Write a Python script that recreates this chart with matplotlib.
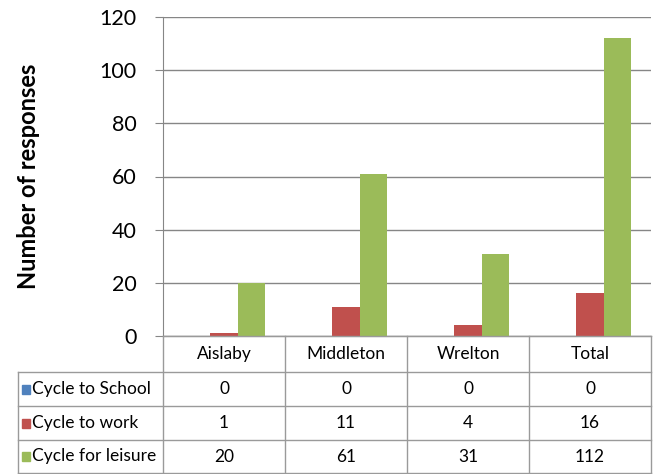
import numpy as np
import matplotlib.pyplot as plt
from matplotlib.patches import Rectangle

places = ['Aislaby', 'Middleton', 'Wrelton', 'Total']
series = ['Cycle to School', 'Cycle to work', 'Cycle for leisure']
school = [0, 0, 0, 0]
work = [1, 11, 4, 16]
leisure = [20, 61, 31, 112]
colors = ['#4F81BD', '#C0504D', '#9BBB59']

plt.rcParams['font.family'] = ['Lato', 'DejaVu Sans']

W, H = 656, 474
fig = plt.figure(figsize=(W / 100, H / 100), dpi=100)

# plot area in pixels (from top-left)
L, R, T, B = 163, 651, 17, 336
ax = fig.add_axes([L / W, 1 - B / H, (R - L) / W, (B - T) / H])

x = np.arange(len(places))
bw = 1 / 4.5  # excel gap width 150%
for k, vals in enumerate([school, work, leisure]):
    ax.bar(x + (k - 1) * bw, vals, bw, color=colors[k], zorder=3)

ax.set_xlim(-0.5, len(places) - 0.5)
ax.set_ylim(0, 120)
ax.set_yticks(range(0, 121, 20))
ax.set_xticks([])
ax.grid(axis='y', color='#868686', lw=1, zorder=0)
for s in ['top', 'right']:
    ax.spines[s].set_visible(False)
ax.spines['left'].set_color('#868686')
ax.spines['bottom'].set_color('#868686')
ax.tick_params(axis='y', length=6, color='#868686', pad=13, labelsize=15.5)

fig.text(28 / W, 1 - 176 / H, 'Number of responses', rotation=90,
         ha='center', va='center', fontsize=17, fontweight='bold')

# data table drawn in pixel coords
tab = fig.add_axes([0, 0, 1, 1])
tab.set_xlim(0, W)
tab.set_ylim(H, 0)
tab.axis('off')
lc = '#9A9A9A'
rows_y = [336, 372, 406, 440, 473]
col_x = [L + i * (R - L) / len(places) for i in range(len(places) + 1)]
lab_x = 18

# horizontal lines
tab.plot([L, R], [rows_y[0], rows_y[0]], color=lc, lw=1)
for yy in rows_y[1:]:
    tab.plot([lab_x, R], [yy, yy], color=lc, lw=1)
# vertical lines
tab.plot([lab_x, lab_x], [rows_y[1], rows_y[-1]], color=lc, lw=1)
for xx in col_x:
    tab.plot([xx, xx], [rows_y[0], rows_y[-1]], color=lc, lw=1)

fs = 12.5
for i, p in enumerate(places):
    cx = (col_x[i] + col_x[i + 1]) / 2
    tab.text(cx, (rows_y[0] + rows_y[1]) / 2, p, ha='center', va='center', fontsize=fs)

for r, (name, vals) in enumerate(zip(series, [school, work, leisure])):
    cy = (rows_y[r + 1] + rows_y[r + 2]) / 2
    tab.add_patch(Rectangle((22, cy - 4.5), 8, 9, color=colors[r]))
    tab.text(32, cy, name, ha='left', va='center', fontsize=fs)
    for i, v in enumerate(vals):
        cx = (col_x[i] + col_x[i + 1]) / 2
        tab.text(cx, cy, str(v), ha='center', va='center', fontsize=fs)

fig.savefig('out.png', dpi=100)
